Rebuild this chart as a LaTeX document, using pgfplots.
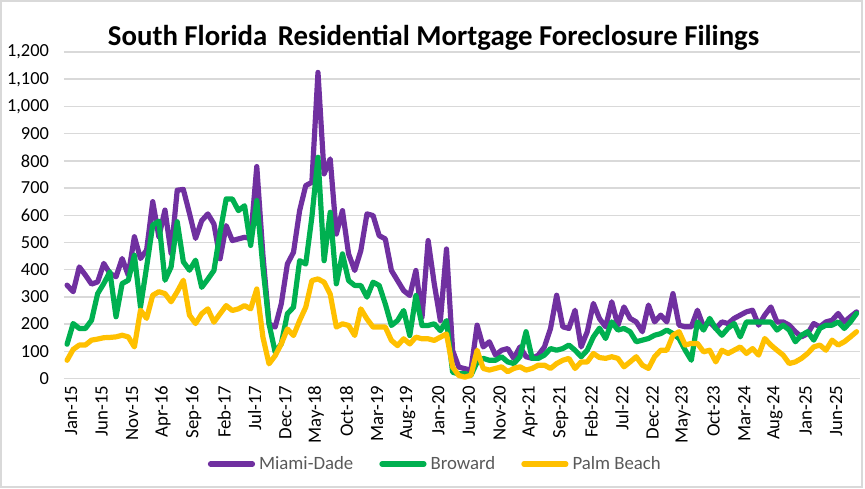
\documentclass[border=0pt]{standalone}
\usepackage{fontspec}
\setmainfont{Carlito}
\usepackage{pgfplots}
\usepackage{pgfplotstable}
\pgfplotsset{compat=1.18}
\definecolor{mdpurple}{HTML}{7030A0}
\definecolor{brgreen}{HTML}{00B050}
\definecolor{pbgold}{HTML}{FFC000}
\definecolor{gridgray}{HTML}{D9D9D9}
\definecolor{legendgray}{HTML}{595959}
\pgfplotstableread{
i md br pb
0 343 126 67
1 319 202 107
2 410 184 123
3 380 184 123
4 347 214 141
5 355 312 145
6 423 349 150
7 386 392 151
8 374 227 153
9 441 349 159
10 380 361 153
11 521 453 116
12 441 263 251
13 472 410 221
14 650 564 306
15 521 578 319
16 619 361 312
17 460 410 282
18 692 576 319
19 695 429 361
20 607 398 233
21 515 435 202
22 580 335 238
23 605 365 256
24 568 397 207
25 440 537 238
26 562 660 268
27 507 660 250
28 513 617 256
29 519 635 268
30 515 489 256
31 779 654 329
32 455 409 152
33 201 201 54
34 189 97 84
35 274 127 127
36 421 238 182
37 464 262 158
38 617 433 213
39 709 421 262
40 721 593 360
41 1125 813 366
42 752 433 354
43 807 611 310
44 531 348 189
45 617 458 201
46 458 360 195
47 397 342 158
48 470 342 256
49 605 299 219
50 599 354 189
51 525 342 189
52 513 274 189
53 397 195 140
54 360 213 121
55 323 250 146
56 305 158 127
57 397 305 152
58 225 195 146
59 507 195 146
60 348 201 140
61 213 176 152
62 476 213 164
63 103 23 42
64 42 17 11
65 36 18 5
66 31 12 12
67 196 60 104
68 116 74 37
69 135 67 31
70 86 67 37
71 104 80 43
72 110 61 25
73 74 55 37
74 116 80 43
75 80 172 31
76 74 74 37
77 86 74 49
78 116 86 49
79 184 110 37
80 306 104 55
81 190 110 67
82 184 123 74
83 251 104 37
84 116 80 61
85 172 104 61
86 276 153 92
87 220 185 77
88 190 147 74
89 282 208 80
90 196 178 74
91 263 184 43
92 221 172 61
93 208 135 80
94 172 141 49
95 270 147 37
96 208 159 80
97 233 165 104
98 208 178 104
99 312 165 159
100 196 147 172
101 190 104 123
102 190 67 129
103 251 208 129
104 190 178 98
105 208 221 104
106 184 184 61
107 208 159 104
108 202 185 92
109 221 202 104
110 233 153 116
111 245 208 92
112 251 208 110
113 196 208 86
114 233 208 147
115 263 208 123
116 208 178 104
117 208 196 86
118 196 178 55
119 172 135 61
120 153 159 74
121 165 172 92
122 202 141 116
123 190 184 123
124 208 196 104
125 214 196 141
126 239 208 123
127 208 184 135
128 227 208 153
129 245 239 172
}\datatable
\begin{document}
\begin{tikzpicture}
\path[use as bounding box] (0,0) rectangle (432.5pt,244pt);
\draw[gridgray, line width=0.8pt] (0.6pt,0.6pt) rectangle (431pt,243.4pt);
\node[font=\fontsize{14.4}{16}\selectfont\bfseries] at (216.8pt,225pt) {South Florida\hspace{2pt} Residential Mortgage Foreclosure Filings};
\begin{axis}[
  at={(32pt,54.75pt)}, anchor=south west,
  width=397.8pt, height=163.25pt, scale only axis,
  xmin=-0.5, xmax=129.5, ymin=0, ymax=1200,
  ytick={0,100,...,1200},
  xtick={0,5,...,125},
  xticklabels={Jan-15,Jun-15,Nov-15,Apr-16,Sep-16,Feb-17,Jul-17,Dec-17,May-18,Oct-18,Mar-19,Aug-19,Jan-20,Jun-20,Nov-20,Apr-21,Sep-21,Feb-22,Jul-22,Dec-22,May-23,Oct-23,Mar-24,Aug-24,Jan-25,Jun-25},
  ymajorgrids, grid style={gridgray, line width=0.75pt},
  axis line style={draw=none},
  major tick length=0pt,
  tick style={draw=none},
  /pgf/number format/assume math mode=true,
  /pgf/number format/1000 sep={,},
  yticklabel style={font=\fontsize{9.2}{10}\selectfont, anchor=east, xshift=-4pt},
  xticklabel style={font=\fontsize{9.4}{10}\selectfont, rotate=90, anchor=east, yshift=-2pt},
  legend style={at={(0.468,-0.262)}, anchor=center, draw=none, fill=none,
    legend columns=3, font=\fontsize{9.4}{10}\selectfont, text=legendgray,
    /tikz/every even column/.append style={column sep=11pt},
    inner sep=0pt},
  legend image code/.code={\draw[#1, line cap=round] (0pt,0pt) -- (21pt,0pt);},
  every axis plot/.append style={line width=2.6pt, line join=round, line cap=round, mark=none},
  clip=false,
]
\addplot[mdpurple] table[x=i, y=md] {\datatable};
\addlegendentry{Miami-Dade}
\addplot[brgreen] table[x=i, y=br] {\datatable};
\addlegendentry{Broward}
\addplot[pbgold] table[x=i, y=pb] {\datatable};
\addlegendentry{Palm Beach}
\end{axis}
\end{tikzpicture}
\end{document}
